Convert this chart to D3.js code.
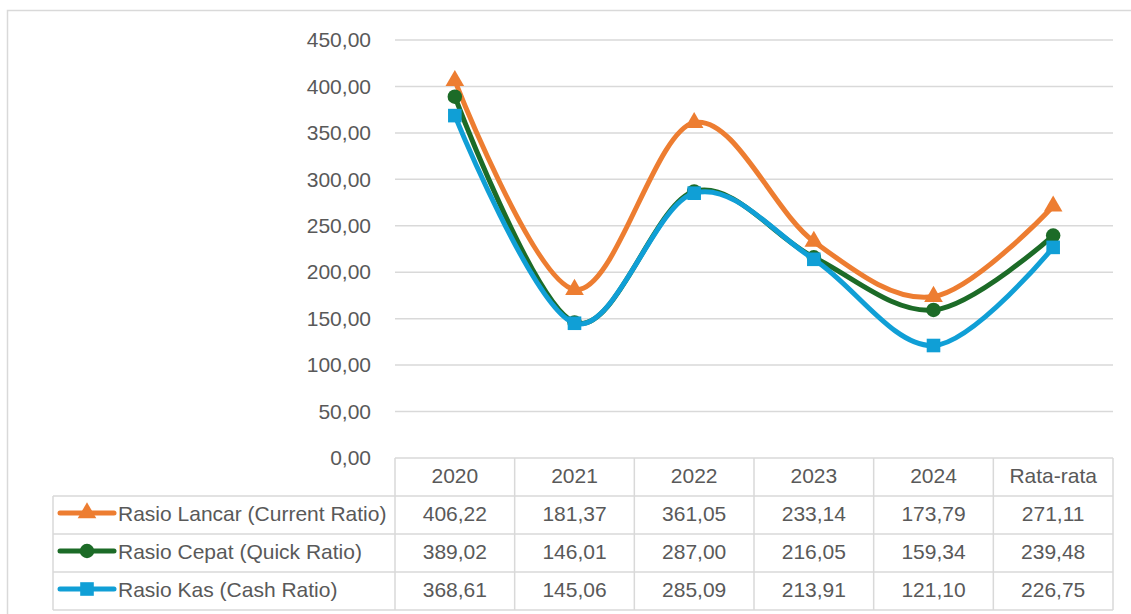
<!DOCTYPE html>
<html>
<head>
<meta charset="utf-8">
<script src="https://cdn.jsdelivr.net/npm/d3@7"></script>
<style>
  html, body { margin: 0; padding: 0; background: #fff; }
  svg { display: block; }
  text { font-family: "Liberation Sans", Arial, sans-serif; fill: #595959; }
</style>
</head>
<body>
<svg id="chart" width="1131" height="614"></svg>
<script>
// Categories along the x axis
const categories = ["2020", "2021", "2022", "2023", "2024", "Rata-rata"];

// Series names and values
const seriesNames = [
  "Rasio Lancar (Current Ratio)",
  "Rasio Cepat (Quick Ratio)",
  "Rasio Kas (Cash Ratio)"
];
const currentRatio = [406.22, 181.37, 361.05, 233.14, 173.79, 271.11];
const quickRatio   = [389.02, 146.01, 287.00, 216.05, 159.34, 239.48];
const cashRatio    = [368.61, 145.06, 285.09, 213.91, 121.10, 226.75];

// Y axis ticks
const yTicks = [0, 50, 100, 150, 200, 250, 300, 350, 400, 450];

const colors = ["#ED7D31", "#1C6B27", "#109FD6"];
const markers = [d3.symbolTriangle, d3.symbolCircle, d3.symbolSquare];
const markerSizes = [150, 165, 185];

const series = [
  { name: seriesNames[0], values: currentRatio },
  { name: seriesNames[1], values: quickRatio },
  { name: seriesNames[2], values: cashRatio }
];

const fmt = v => d3.format(".2f")(v).replace(".", ",");

const svg = d3.select("#chart");

// Outer chart frame
svg.append("rect")
  .attr("x", 7.5).attr("y", 10.5)
  .attr("width", 1140).attr("height", 620)
  .attr("fill", "none").attr("stroke", "#d9d9d9").attr("stroke-width", 1.5);

const plot = { left: 395, right: 1113, top: 40, bottom: 458 };

const x = d3.scaleBand().domain(categories).range([plot.left, plot.right]);
const y = d3.scaleLinear().domain([0, 450]).range([plot.bottom, plot.top]);

// Horizontal gridlines
svg.append("g").selectAll("line")
  .data(yTicks.filter(t => t > 0))
  .join("line")
  .attr("x1", plot.left).attr("x2", plot.right)
  .attr("y1", d => y(d)).attr("y2", d => y(d))
  .attr("stroke", "#d9d9d9").attr("stroke-width", 1.5);

// Y axis labels
const yAxis = d3.axisLeft(y).tickValues(yTicks).tickFormat(fmt).tickSize(0).tickPadding(24);
const yg = svg.append("g").attr("transform", `translate(${plot.left},0)`).call(yAxis);
yg.select(".domain").remove();
yg.selectAll("text")
  .attr("font-size", 21)
  .attr("fill", "#595959")
  .attr("font-family", "Liberation Sans, Arial, sans-serif");

// Data table below the plot
const rowH = 38;
const tableTop = plot.bottom;
const tableLeft = 53;
const gridStroke = "#d9d9d9";
const textDy = "0.28em";
const tbl = svg.append("g");

// header row top border
tbl.append("line")
  .attr("x1", plot.left).attr("x2", plot.right)
  .attr("y1", tableTop).attr("y2", tableTop)
  .attr("stroke", gridStroke).attr("stroke-width", 1.5);
// row separators
for (let i = 1; i <= series.length + 1; i++) {
  tbl.append("line")
    .attr("x1", tableLeft).attr("x2", plot.right)
    .attr("y1", tableTop + i * rowH).attr("y2", tableTop + i * rowH)
    .attr("stroke", gridStroke).attr("stroke-width", 1.5);
}
// left edge of series label column
tbl.append("line")
  .attr("x1", tableLeft).attr("x2", tableLeft)
  .attr("y1", tableTop + rowH).attr("y2", tableTop + (series.length + 1) * rowH)
  .attr("stroke", gridStroke).attr("stroke-width", 1.5);
// vertical column separators
const colEdges = categories.map(c => x(c)).concat([plot.right]);
tbl.selectAll("line.col")
  .data(colEdges)
  .join("line")
  .attr("class", "col")
  .attr("x1", d => d).attr("x2", d => d)
  .attr("y1", tableTop).attr("y2", tableTop + (series.length + 1) * rowH)
  .attr("stroke", gridStroke).attr("stroke-width", 1.5);

// header labels
tbl.selectAll("text.hdr")
  .data(categories)
  .join("text")
  .attr("class", "hdr")
  .attr("x", d => x(d) + x.bandwidth() / 2)
  .attr("y", tableTop + rowH / 2)
  .attr("dy", textDy)
  .attr("text-anchor", "middle")
  .attr("font-size", 21)
  .text(d => d);

// value cells and legend keys
series.forEach((s, i) => {
  const cy = tableTop + (i + 1) * rowH + rowH / 2;
  tbl.selectAll(null)
    .data(s.values)
    .join("text")
    .attr("x", (d, j) => x(categories[j]) + x.bandwidth() / 2)
    .attr("y", cy)
    .attr("dy", textDy)
    .attr("text-anchor", "middle")
    .attr("font-size", 21)
    .text(d => fmt(d));

  tbl.append("line")
    .attr("x1", 60).attr("x2", 114)
    .attr("y1", cy - 2).attr("y2", cy - 2)
    .attr("stroke", colors[i]).attr("stroke-width", 5)
    .attr("stroke-linecap", "round");
  tbl.append("path")
    .attr("d", d3.symbol().type(markers[i]).size(markerSizes[i])())
    .attr("transform", `translate(87,${cy - 2})`)
    .attr("fill", colors[i]);

  tbl.append("text")
    .attr("x", 118)
    .attr("y", cy)
    .attr("dy", textDy)
    .attr("font-size", 21)
    .text(s.name);
});

// Smoothed series lines with markers
const line = d3.line()
  .x((d, j) => x(categories[j]) + x.bandwidth() / 2)
  .y(d => y(d))
  .curve(d3.curveCardinal.tension(0));

const lines = svg.append("g");
series.forEach((s, i) => {
  const g = lines.append("g");
  g.append("path")
    .datum(s.values)
    .attr("d", line)
    .attr("fill", "none")
    .attr("stroke", colors[i])
    .attr("stroke-width", 5)
    .attr("stroke-linejoin", "round")
    .attr("stroke-linecap", "round");
  g.selectAll("path.mk")
    .data(s.values)
    .join("path")
    .attr("class", "mk")
    .attr("d", d3.symbol().type(markers[i]).size(markerSizes[i]))
    .attr("transform", (d, j) => `translate(${x(categories[j]) + x.bandwidth() / 2},${y(d)})`)
    .attr("fill", colors[i]);
});
</script>
</body>
</html>
